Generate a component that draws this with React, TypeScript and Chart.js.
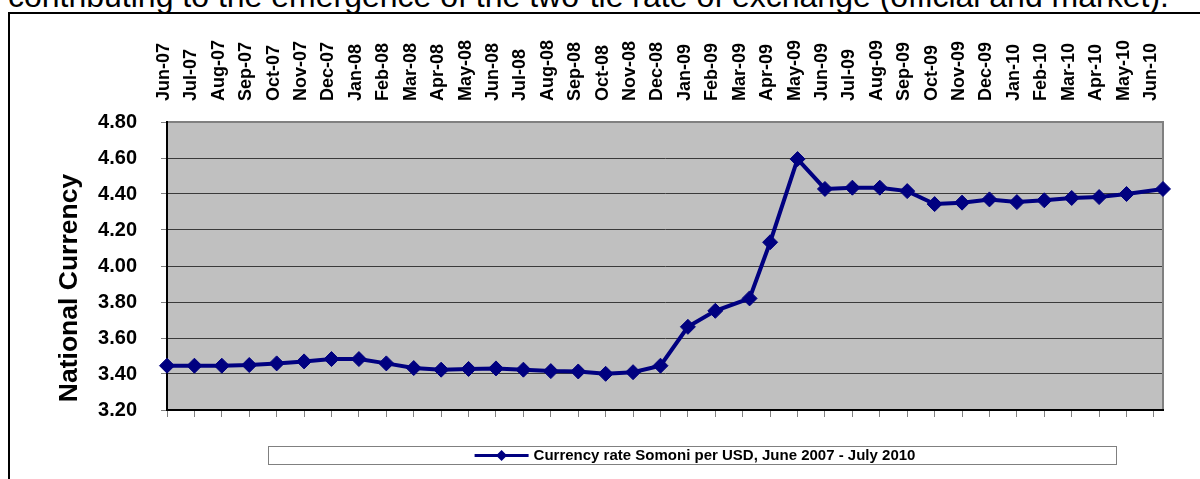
import React, { useEffect, useRef } from 'react';
import { Chart, registerables } from 'chart.js';

Chart.register(...registerables);

const FONT = "'Liberation Sans', Arial, sans-serif";

const headingText = 'contributing to the emergence of the two-tie rate of exchange (official and market).';
const seriesLabel = 'Currency rate Somoni per USD, June 2007 - July 2010';
const yAxisTitle = 'National Currency';

const monthLabels = [
  'Jun-07', 'Jul-07', 'Aug-07', 'Sep-07', 'Oct-07', 'Nov-07', 'Dec-07',
  'Jan-08', 'Feb-08', 'Mar-08', 'Apr-08', 'May-08', 'Jun-08', 'Jul-08', 'Aug-08', 'Sep-08', 'Oct-08', 'Nov-08', 'Dec-08',
  'Jan-09', 'Feb-09', 'Mar-09', 'Apr-09', 'May-09', 'Jun-09', 'Jul-09', 'Aug-09', 'Sep-09', 'Oct-09', 'Nov-09', 'Dec-09',
  'Jan-10', 'Feb-10', 'Mar-10', 'Apr-10', 'May-10', 'Jun-10',
];

// observation position, in months since Jun-07
const monthPos = [
  0, 1, 2, 3, 4, 5, 6,
  7, 8, 9, 10, 11, 12, 13, 14, 15, 16, 17, 18,
  19, 20, 21.25, 22, 23, 24, 25, 26, 27, 28, 29, 30,
  31, 32, 33, 34, 35, 36.33,
];

const rates = [
  3.446, 3.446, 3.446, 3.45, 3.459, 3.47, 3.483,
  3.483, 3.459, 3.433, 3.424, 3.428, 3.431, 3.424, 3.416, 3.414, 3.401, 3.41, 3.446,
  3.662, 3.751, 3.82, 4.132, 4.594, 4.428, 4.435, 4.435, 4.416, 4.344, 4.352, 4.37,
  4.355, 4.365, 4.378, 4.383, 4.4, 4.428,
];

const yMin = 3.2;
const yMax = 4.8;
const yStep = 0.2;
const xMax = 36.33;

const NAVY = '#000080';

const plotFrame = {
  id: 'plotFrame',
  beforeDraw(chart: any) {
    const { ctx, chartArea: a } = chart;
    ctx.save();
    ctx.fillStyle = '#C0C0C0';
    ctx.fillRect(a.left, a.top, a.right - a.left, a.bottom - a.top);
    ctx.restore();
  },
  beforeDatasetsDraw(chart: any) {
    const { ctx, chartArea: a } = chart;
    ctx.save();
    ctx.strokeStyle = '#808080';
    ctx.lineWidth = 2;
    ctx.beginPath();
    ctx.moveTo(a.left + 1, a.top);
    ctx.lineTo(a.right, a.top);
    ctx.lineTo(a.right, a.bottom - 1);
    ctx.stroke();
    ctx.restore();
  },
};

const sideTitle = {
  id: 'sideTitle',
  afterDraw(chart: any, _args: any, opts: any) {
    const { ctx } = chart;
    ctx.save();
    ctx.translate(opts.x, opts.y);
    ctx.rotate(-Math.PI / 2);
    ctx.font = `bold ${opts.size}px ${FONT}`;
    ctx.fillStyle = '#000000';
    ctx.textAlign = 'center';
    ctx.textBaseline = 'middle';
    ctx.fillText(opts.text, 0, 0);
    ctx.restore();
  },
};

const boxedLegend = {
  id: 'boxedLegend',
  afterDraw(chart: any, _args: any, opts: any) {
    const ds = chart.data.datasets[0];
    const { ctx } = chart;
    const { left, top, width, height } = opts.box;
    ctx.save();
    ctx.fillStyle = '#ffffff';
    ctx.fillRect(left, top, width, height);
    ctx.strokeStyle = '#808080';
    ctx.lineWidth = 1;
    ctx.strokeRect(left + 0.5, top + 0.5, width, height);
    ctx.font = `bold 15px ${FONT}`;
    const tw = ctx.measureText(ds.label).width;
    const sample = 54;
    const gap = 5;
    const total = sample + gap + tw;
    const sx = left + (width - total) / 2 + 3;
    const cy = top + height / 2 + 0.5;
    ctx.strokeStyle = ds.borderColor;
    ctx.lineWidth = 3;
    ctx.beginPath();
    ctx.moveTo(sx, cy);
    ctx.lineTo(sx + sample, cy);
    ctx.stroke();
    const r = 5.5;
    const mx = sx + sample / 2;
    ctx.fillStyle = ds.pointBackgroundColor;
    ctx.beginPath();
    ctx.moveTo(mx, cy - r);
    ctx.lineTo(mx + r, cy);
    ctx.lineTo(mx, cy + r);
    ctx.lineTo(mx - r, cy);
    ctx.closePath();
    ctx.fill();
    ctx.fillStyle = '#000000';
    ctx.textBaseline = 'middle';
    ctx.textAlign = 'left';
    ctx.fillText(ds.label, sx + sample + gap, cy);
    ctx.restore();
  },
};

export default function App() {
  const canvasRef = useRef<HTMLCanvasElement | null>(null);

  useEffect(() => {
    const canvas = canvasRef.current;
    if (!canvas) return;
    const chart = new Chart(canvas, {
      type: 'line',
      data: {
        datasets: [
          {
            label: seriesLabel,
            data: rates.map((v, i) => ({ x: monthPos[i], y: v })),
            borderColor: NAVY,
            backgroundColor: NAVY,
            pointBackgroundColor: NAVY,
            pointBorderColor: NAVY,
            borderWidth: 4,
            pointStyle: 'rectRot',
            pointRadius: 7.5,
            pointBorderWidth: 1,
            tension: 0,
            clip: false as any,
          } as any,
        ],
      },
      plugins: [plotFrame, sideTitle, boxedLegend],
      options: {
        animation: false,
        responsive: false,
        devicePixelRatio: 1,
        layout: { padding: { left: 0, right: 37, top: 0, bottom: 0 } },
        plugins: {
          legend: { display: false },
          tooltip: { enabled: false },
          sideTitle: { text: yAxisTitle, x: 70, y: 288, size: 26.5 },
          boxedLegend: { box: { left: 268, top: 446, width: 848, height: 18 } },
        } as any,
        scales: {
          y: {
            type: 'linear',
            position: 'left',
            min: yMin,
            max: yMax,
            afterFit: (s: any) => { s.width = 167; },
            ticks: {
              stepSize: yStep,
              color: '#000000',
              font: { family: FONT, size: 20, weight: 'bold' },
              padding: 24,
              callback: (v: any) => Number(v).toFixed(2),
            },
            grid: {
              color: '#3a3a3a',
              lineWidth: 1,
              tickLength: 6,
              tickColor: '#808080',
            },
            border: { display: true, color: '#000000', width: 2 },
          },
          x: {
            type: 'linear',
            position: 'bottom',
            min: 0,
            max: xMax,
            afterFit: (s: any) => { s.height = 69; },
            ticks: {
              stepSize: 1,
              autoSkip: false,
              includeBounds: false,
              maxRotation: 0,
              callback: () => '',
            },
            grid: {
              drawOnChartArea: false,
              tickLength: 7,
              tickColor: '#808080',
              color: '#808080',
            },
            border: { display: true, color: '#000000', width: 2 },
          },
          x2: {
            type: 'linear',
            position: 'top',
            min: 0,
            max: xMax,
            afterFit: (s: any) => { s.height = 122; },
            ticks: {
              stepSize: 1,
              autoSkip: false,
              includeBounds: false,
              minRotation: 90,
              maxRotation: 90,
              padding: 21,
              color: '#000000',
              font: { family: FONT, size: 18, weight: 'bold', lineHeight: '3px' },
              callback: (v: any) => monthLabels[Math.round(Number(v))] ?? '',
            },
            grid: { display: false, drawTicks: false },
            border: { display: false },
          },
        } as any,
      },
    });
    return () => chart.destroy();
  }, []);

  return (
    <div
      style={{
        position: 'fixed',
        left: 0,
        top: 0,
        width: 1200,
        height: 479,
        overflow: 'hidden',
        background: '#ffffff',
      }}
    >
      <div
        style={{
          position: 'absolute',
          left: 8,
          top: -20,
          fontFamily: FONT,
          fontSize: 32,
          lineHeight: '32px',
          whiteSpace: 'nowrap',
          color: '#000000',
        }}
      >
        {headingText}
      </div>
      <div
        style={{
          position: 'absolute',
          left: 8,
          top: 12,
          width: 1400,
          height: 700,
          border: '2px solid #000000',
          boxSizing: 'border-box',
        }}
      />
      <canvas
        ref={canvasRef}
        width={1200}
        height={479}
        style={{ position: 'absolute', left: 0, top: 0, width: 1200, height: 479 }}
      />
    </div>
  );
}
